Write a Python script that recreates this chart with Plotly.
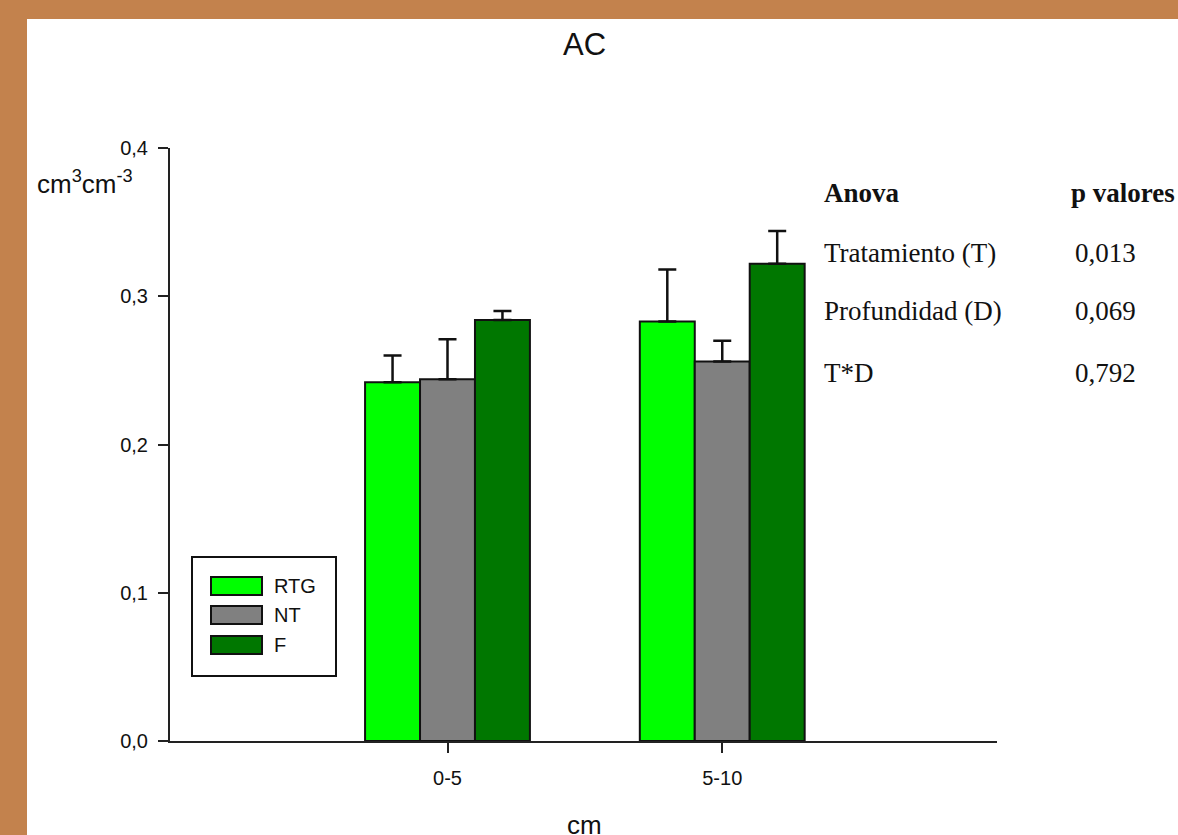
import plotly.graph_objects as go

# Air capacity (AC) by treatment and soil depth
depths = ["0-5", "5-10"]
treatments = ["RTG", "NT", "F"]
colors = ["#00ff00", "#808080", "#007700"]
ac_mean = {
    "RTG": [0.242, 0.283],
    "NT": [0.244, 0.256],
    "F": [0.284, 0.322],
}
ac_err = {
    "RTG": [0.018, 0.035],
    "NT": [0.027, 0.014],
    "F": [0.006, 0.022],
}
y_ticks = [0.0, 0.1, 0.2, 0.3, 0.4]

anova_terms = ["Tratamiento (T)", "Profundidad (D)", "T*D"]
anova_p = ["0,013", "0,069", "0,792"]

W, H = 1178, 835
L, R, T, B = 170, 181, 148, 94
PW, PH = W - L - R, H - T - B


def px(x):
    return (x - L) / PW


def py(y):
    return (H - B - y) / PH


ink = "#111111"
sans = "Arial, Liberation Sans, sans-serif"
serif = "Times New Roman, Liberation Serif, serif"

fig = go.Figure()
for name, col in zip(treatments, colors):
    fig.add_trace(go.Bar(
        x=depths, y=ac_mean[name], name=name,
        marker=dict(color=col, line=dict(color=ink, width=2)),
        error_y=dict(type="data", symmetric=False, array=ac_err[name],
                     arrayminus=[0] * len(depths), color=ink,
                     thickness=2.5, width=9),
        showlegend=False,
    ))

shapes = [
    # white chart panel over the brown backdrop
    dict(type="rect", xref="paper", yref="paper", layer="below",
         x0=px(27), x1=px(W + 5), y0=py(H + 5), y1=py(19),
         fillcolor="white", line=dict(width=0)),
    # legend frame
    dict(type="rect", xref="paper", yref="paper",
         x0=px(192), x1=px(336), y0=py(676), y1=py(557),
         fillcolor="white", line=dict(color=ink, width=2)),
]
annotations = []
legend_rows = [586, 615, 645]
for name, col, yc in zip(treatments, colors, legend_rows):
    shapes.append(dict(type="rect", xref="paper", yref="paper",
                       x0=px(211), x1=px(262), y0=py(yc + 9), y1=py(yc - 9),
                       fillcolor=col, line=dict(color=ink, width=2)))
    annotations.append(dict(text=name, xref="paper", yref="paper",
                            x=px(272), y=py(yc), xanchor="left", yanchor="middle",
                            showarrow=False, font=dict(family=sans, size=20, color=ink)))

annotations += [
    dict(text="AC", xref="paper", yref="paper", x=px(584), y=py(45),
         xanchor="center", yanchor="middle", showarrow=False,
         font=dict(family=sans, size=31, color=ink)),
    dict(text="cm<sup>3</sup>cm<sup>-3</sup>", xref="paper", yref="paper",
         x=px(35), y=py(182), xanchor="left", yanchor="middle", showarrow=False,
         font=dict(family=sans, size=26, color=ink)),
    dict(text="cm", xref="paper", yref="paper", x=px(584), y=py(825),
         xanchor="center", yanchor="middle", showarrow=False,
         font=dict(family=sans, size=26, color=ink)),
    dict(text="<b>Anova</b>", xref="paper", yref="paper", x=px(822), y=py(193),
         xanchor="left", yanchor="middle", showarrow=False,
         font=dict(family=serif, size=27, color=ink)),
    dict(text="<b>p valores</b>", xref="paper", yref="paper", x=px(1069), y=py(193),
         xanchor="left", yanchor="middle", showarrow=False,
         font=dict(family=serif, size=27, color=ink)),
]
for term, p, yc in zip(anova_terms, anova_p, [253, 311, 373]):
    annotations.append(dict(text=term, xref="paper", yref="paper", x=px(822), y=py(yc),
                            xanchor="left", yanchor="middle", showarrow=False,
                            font=dict(family=serif, size=27, color=ink)))
    annotations.append(dict(text=p, xref="paper", yref="paper", x=px(1073), y=py(yc),
                            xanchor="left", yanchor="middle", showarrow=False,
                            font=dict(family=serif, size=27, color=ink)))

fig.update_layout(
    width=W, height=H,
    margin=dict(l=L, r=R, t=T, b=B),
    paper_bgcolor="#c3824d",
    plot_bgcolor="white",
    separators=",.",
    barmode="group", bargap=0.4, bargroupgap=0,
    shapes=shapes, annotations=annotations,
    xaxis=dict(type="category", range=[-1.01, 2.0], showgrid=False,
               showline=True, linecolor="#222222", linewidth=2,
               ticks="outside", ticklen=10, tickwidth=2, tickcolor="#222222",
               tickfont=dict(family=sans, size=20, color=ink),
               ticklabelstandoff=8, zeroline=False),
    yaxis=dict(range=[0, 0.4], tickvals=y_ticks, tickformat=".1f", showgrid=False,
               showline=True, linecolor="#222222", linewidth=2,
               ticks="outside", ticklen=10, tickwidth=2, tickcolor="#222222",
               tickfont=dict(family=sans, size=20, color=ink),
               ticklabelstandoff=6, zeroline=False),
)

fig.write_html("out.html")
